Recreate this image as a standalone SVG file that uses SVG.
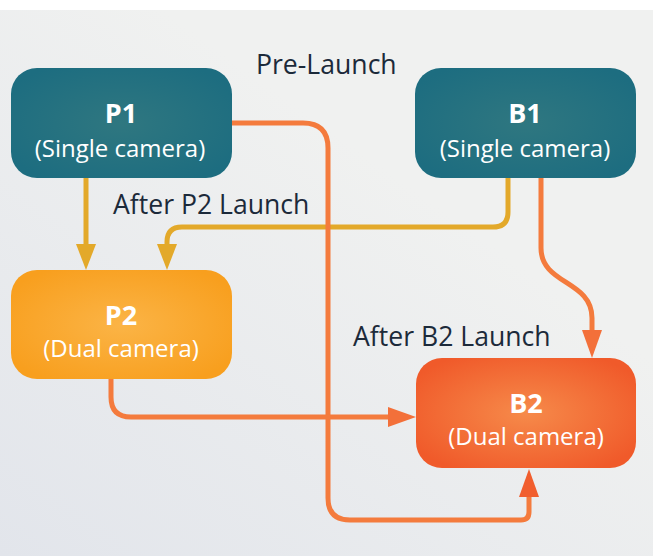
<svg xmlns="http://www.w3.org/2000/svg" width="653" height="556" viewBox="0 0 653 556">
  <defs>
    <linearGradient id="bg" x1="0" y1="1" x2="0.6" y2="0.3">
      <stop offset="0" stop-color="#e2e5eb"/>
      <stop offset="1" stop-color="#f0f1f0"/>
    </linearGradient>
    <radialGradient id="teal" cx="0.5" cy="0.5" r="0.6">
      <stop offset="0" stop-color="#2f7780"/>
      <stop offset="1" stop-color="#1d6d80"/>
    </radialGradient>
    <radialGradient id="amber" cx="0.5" cy="0.5" r="0.6">
      <stop offset="0" stop-color="#fbb446"/>
      <stop offset="1" stop-color="#f89f1e"/>
    </radialGradient>
    <radialGradient id="flame" cx="0.5" cy="0.5" r="0.6">
      <stop offset="0" stop-color="#f68a4a"/>
      <stop offset="1" stop-color="#f05a2a"/>
    </radialGradient>
    <marker id="ahY" markerUnits="userSpaceOnUse" markerWidth="27" markerHeight="20" refX="0" refY="10" orient="auto" overflow="visible">
      <path d="M0,0 L26,10 L0,20 Z" fill="#e3a92a"/>
    </marker>
    <marker id="ahO" markerUnits="userSpaceOnUse" markerWidth="29" markerHeight="20" refX="0" refY="10" orient="auto" overflow="visible">
      <path d="M0,0 L28,10 L0,20 Z" fill="#f3703a"/>
    </marker>
    <marker id="ahR" markerUnits="userSpaceOnUse" markerWidth="29" markerHeight="20" refX="0" refY="10" orient="auto" overflow="visible">
      <path d="M0,0 L28,10 L0,20 Z" fill="#f15e2e"/>
    </marker>
  </defs>
  <style>
    .node text { fill: #ffffff; font-family: "Open Sans", "Noto Sans", sans-serif; text-anchor: middle; }
    .title { font-size: 27px; font-weight: 700; }
    .sub { font-size: 24px; }
    .label { fill: #1c2a3a; font-family: "Open Sans", "Noto Sans", sans-serif; font-size: 26.6px; }
    .wire { fill: none; stroke-width: 5; }
    .y { stroke: #e3a92a; }
    .o { stroke: #f47b3d; }
  </style>

  <!-- backdrop -->
  <rect x="0" y="0" width="653" height="556" fill="#ffffff"/>
  <rect x="0" y="10" width="653" height="546" fill="url(#bg)"/>

  <!-- connectors -->
  <g id="connectors">
    <path class="wire y" d="M86,178 V244" marker-end="url(#ahY)"/>
    <path class="wire y" d="M508,178 V212 Q508,227 493,227 H182 Q167,227 167,242 V244" marker-end="url(#ahY)"/>
    <path class="wire o" d="M231,123 H303 Q328,123 328,148 V498 Q328,520 350,520 H521 Q529,520 529,512 V497" marker-end="url(#ahR)"/>
    <path class="wire o" d="M541,178 V248 C541,285 592,280 592,318 V330" marker-end="url(#ahO)"/>
    <path class="wire o" d="M111,379 V397 Q111,417 131,417 H388" marker-end="url(#ahO)"/>
  </g>

  <!-- nodes -->
  <g id="p1" class="node">
    <rect x="11" y="68" width="221" height="110" rx="26" fill="url(#teal)"/>
    <text class="title" x="121" y="123">P1</text>
    <text class="sub" x="120" y="157">(Single camera)</text>
  </g>
  <g id="b1" class="node">
    <rect x="415" y="68" width="221" height="110" rx="26" fill="url(#teal)"/>
    <text class="title" x="525" y="123">B1</text>
    <text class="sub" x="525" y="157">(Single camera)</text>
  </g>
  <g id="p2" class="node">
    <rect x="11" y="270" width="221" height="109" rx="26" fill="url(#amber)"/>
    <text class="title" x="121" y="325">P2</text>
    <text class="sub" x="121" y="357">(Dual camera)</text>
  </g>
  <g id="b2" class="node">
    <rect x="416" y="358" width="220" height="110" rx="26" fill="url(#flame)"/>
    <text class="title" x="526" y="413">B2</text>
    <text class="sub" x="526" y="445">(Dual camera)</text>
  </g>

  <!-- phase labels -->
  <g id="labels">
    <text class="label" x="256" y="74">Pre-Launch</text>
    <text class="label" x="113" y="214">After P2 Launch</text>
    <text class="label" x="353" y="346">After B2 Launch</text>
  </g>
</svg>
